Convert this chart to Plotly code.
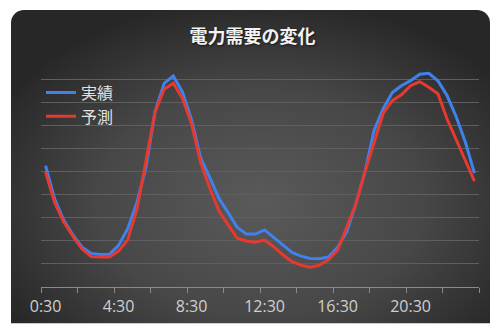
import base64
import plotly.graph_objects as go

# Half-hourly time slots (0:30 ... 24:00)
times = [f"{(m // 60)}:{m % 60:02d}" for m in range(30, 24 * 60 + 1, 30)]

# Demand (arbitrary units)
actual = [5.28, 3.82, 2.90, 2.26, 1.73, 1.46, 1.41, 1.42, 1.81, 2.53,
          3.65, 5.20, 7.62, 8.85, 9.17, 8.48, 7.26, 5.60, 4.75, 3.85,
          3.24, 2.60, 2.30, 2.30, 2.48, 2.15, 1.80, 1.50, 1.34, 1.24,
          1.23, 1.30, 1.72, 2.40, 3.60, 5.00, 6.80, 7.75, 8.45, 8.75,
          8.97, 9.25, 9.29, 8.96, 8.32, 7.40, 6.30, 4.95]
forecast = [4.99, 3.66, 2.82, 2.20, 1.65, 1.32, 1.30, 1.30, 1.56, 2.05,
            3.35, 5.40, 7.60, 8.60, 8.86, 8.20, 7.10, 5.40, 4.30, 3.30,
            2.70, 2.12, 2.00, 1.95, 2.04, 1.75, 1.40, 1.10, 0.95, 0.86,
            0.95, 1.18, 1.60, 2.60, 3.60, 5.00, 6.30, 7.55, 8.10, 8.35,
            8.75, 8.92, 8.68, 8.40, 7.30, 6.40, 5.50, 4.60]

label_step = 8
tick_step = 4
title = "電力需要の変化"
series_names = ["実績", "予測"]
series_colors = ["#3f82ee", "#e6392f"]

W, H = 491, 329
ML, MR, MT, MB = 41, 12, 56, 37

x = list(range(len(times)))

# Dark rounded panel with a soft radial shading
svg = f"""<svg xmlns='http://www.w3.org/2000/svg' width='{W}' height='{H}' viewBox='0 0 {W} {H}' preserveAspectRatio='none'>
<defs><radialGradient id='g' cx='52%' cy='58%' r='62%'>
<stop offset='0%' stop-color='#5a5a5a'/><stop offset='55%' stop-color='#474747'/>
<stop offset='100%' stop-color='#272727'/></radialGradient></defs>
<rect x='11' y='9' width='479' height='340' rx='13' ry='13' fill='url(#g)'/>
</svg>"""
src = "data:image/svg+xml;base64," + base64.b64encode(svg.encode()).decode()

pw, ph = W - ML - MR, H - MT - MB

fig = go.Figure()
for name, vals, col in zip(series_names, [actual, forecast], series_colors):
    fig.add_trace(go.Scatter(x=x, y=vals, name=name, mode="lines",
                             line=dict(color=col, width=3)))

fig.update_layout(
    width=W, height=H,
    margin=dict(l=ML, r=MR, t=MT, b=MB),
    paper_bgcolor="white", plot_bgcolor="rgba(0,0,0,0)",
    images=[dict(source=src, xref="paper", yref="paper",
                 x=-ML / pw, y=1 + MT / ph, sizex=W / pw, sizey=H / ph,
                 xanchor="left", yanchor="top", sizing="stretch", layer="below")],
    title=dict(text=title, x=252.5 / W, xref="container", xanchor="center",
               y=1 - 37 / H, yref="container", yanchor="middle",
               font=dict(family="Noto Sans CJK JP", size=18, color="#f2f2f2",
                         weight="bold", shadow="1px 1px 2px rgba(0,0,0,0.6)")),
    legend=dict(x=0.0, y=0.915, xanchor="left", yanchor="top",
                bgcolor="rgba(0,0,0,0)", tracegroupgap=0,
                font=dict(family="Noto Sans CJK JP", size=16, color="#e2e2e2")),
    xaxis=dict(range=[-0.5, len(times) - 0.5], showgrid=False, zeroline=False,
               tickvals=x[::label_step], ticktext=times[::label_step],
               ticks="outside", ticklen=5, tickcolor="rgba(0,0,0,0)",
               tickfont=dict(family="Open Sans", size=16, color="#cfcfcf"),
               showline=True, linecolor="#8a8a8a", linewidth=1,
               minor=dict(ticks="outside", tick0=-0.5, dtick=tick_step,
                          ticklen=5, tickcolor="#8a8a8a", tickwidth=1, showgrid=False)),
    yaxis=dict(range=[0, 10.04], tickvals=list(range(1, 11)), showticklabels=False,
               ticks="", showgrid=True, gridcolor="#5f5f5f", gridwidth=1, zeroline=False),
)

fig.write_html("out.html")
